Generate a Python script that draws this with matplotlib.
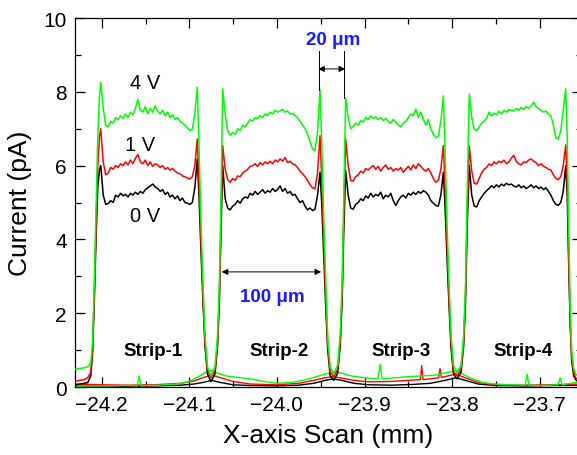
import numpy as np
import matplotlib
matplotlib.use("Agg")
import matplotlib.pyplot as plt
from matplotlib.ticker import MultipleLocator

plt.rcParams['font.family'] = ['Liberation Sans', 'DejaVu Sans']

# ---------------- data ----------------
voltage_labels = ['0 V', '1 V', '4 V']
voltage_label_x = [-24.1505, -24.156, -24.1505]
voltage_label_y = [4.64, 6.56, 8.26]
colors = ['#000000', '#ff0000', '#00ff00']

strip_names = ['Strip-1', 'Strip-2', 'Strip-3', 'Strip-4']
strip_label_x = [-24.1414, -23.9975, -23.8583, -23.7190]
strip_label_y = 1.0

# positions of the edge peaks of every strip (mm)
strip_left_peak_x = [-24.2011, -24.0619, -23.9215, -23.7804]
strip_right_peak_x = [-24.0909, -23.9508, -23.8100, -23.6703]

# plateau currents (pA), sampled evenly from left peak to right peak
plateau_0V = [
    [6.00, 5.20, 4.95, 4.97, 5.05, 5.00, 5.20, 5.15, 5.25, 5.18, 5.22, 5.15, 5.25, 5.20, 5.28, 5.22, 5.30, 5.25, 5.35, 5.40,
     5.45, 5.50, 5.42, 5.38, 5.30, 5.35, 5.22, 5.28, 5.15, 5.20, 5.10, 5.18, 5.05, 5.12, 5.00, 4.98, 4.95, 5.00, 5.40, 6.18],
    [6.00, 5.10, 4.85, 4.80, 4.90, 4.95, 5.05, 4.98, 5.10, 5.15, 5.12, 5.25, 5.20, 5.30, 5.22, 5.28, 5.35, 5.25, 5.32, 5.28,
     5.38, 5.30, 5.35, 5.45, 5.30, 5.38, 5.25, 5.30, 5.20, 5.22, 5.10, 5.00, 5.05, 4.90, 4.80, 4.85, 4.78, 4.82, 5.20, 5.82],
    [5.86, 5.20, 4.85, 4.82, 4.95, 5.00, 5.10, 5.05, 5.18, 5.12, 5.25, 5.15, 5.22, 5.18, 5.28, 5.10, 5.20, 5.15, 5.25, 5.05,
     4.92, 5.05, 5.15, 5.20, 5.12, 5.25, 5.20, 5.28, 5.22, 5.30, 5.25, 5.32, 5.28, 5.20, 5.05, 4.98, 4.92, 4.90, 5.20, 5.82],
    [6.00, 5.20, 4.90, 4.88, 5.05, 5.15, 5.25, 5.32, 5.38, 5.45, 5.40, 5.48, 5.42, 5.50, 5.45, 5.52, 5.48, 5.50, 5.45, 5.42,
     5.48, 5.40, 5.45, 5.38, 5.42, 5.48, 5.40, 5.45, 5.38, 5.42, 5.35, 5.40, 5.30, 5.20, 5.05, 4.95, 4.92, 5.00, 5.30, 6.00],
]
plateau_1V = [
    [7.00, 6.10, 5.75, 5.80, 5.95, 5.90, 6.00, 5.95, 6.05, 6.00, 6.10, 6.02, 6.15, 6.05, 6.20, 6.30, 6.10, 6.05, 6.15, 6.00,
     6.10, 5.98, 6.05, 6.02, 5.95, 6.00, 5.90, 5.95, 5.88, 5.92, 5.85, 5.80, 5.78, 5.72, 5.70, 5.66, 5.64, 5.70, 6.00, 6.72],
    [6.54, 5.90, 5.62, 5.55, 5.65, 5.60, 5.72, 5.70, 5.80, 5.85, 5.90, 5.98, 6.00, 6.05, 5.98, 6.08, 6.02, 6.10, 6.05, 6.12,
     6.05, 6.15, 6.10, 6.18, 6.12, 6.22, 6.08, 6.12, 6.05, 6.02, 5.95, 5.85, 5.78, 5.70, 5.60, 5.48, 5.40, 5.37, 5.80, 6.81],
    [6.72, 6.00, 5.60, 5.58, 5.70, 5.75, 5.85, 5.80, 5.92, 5.88, 5.95, 6.00, 5.90, 5.98, 5.85, 5.95, 6.02, 5.90, 5.95, 5.85,
     5.92, 5.88, 5.95, 5.82, 5.90, 5.98, 5.88, 6.02, 5.92, 6.05, 5.98, 5.90, 5.85, 5.92, 5.80, 5.65, 5.55, 5.60, 5.90, 6.54],
    [6.53, 5.85, 5.52, 5.50, 5.65, 5.80, 5.90, 5.95, 6.05, 6.00, 6.10, 6.05, 6.12, 6.08, 6.15, 6.05, 6.10, 6.20, 6.28, 6.12,
     6.05, 6.02, 6.10, 6.08, 6.15, 6.18, 6.12, 6.08, 6.00, 6.05, 5.98, 5.95, 5.90, 5.88, 5.75, 5.65, 5.62, 5.70, 6.00, 6.56],
]
plateau_4V = [
    [8.26, 7.55, 7.10, 7.05, 7.20, 7.15, 7.30, 7.25, 7.35, 7.28, 7.40, 7.30, 7.45, 7.38, 7.55, 7.80, 7.50, 7.45, 7.60, 7.40,
     7.55, 7.45, 7.62, 7.48, 7.40, 7.50, 7.35, 7.45, 7.30, 7.38, 7.25, 7.30, 7.20, 7.15, 7.10, 7.02, 6.95, 6.98, 7.40, 8.12],
    [8.08, 7.40, 6.95, 6.82, 6.90, 6.85, 7.00, 6.95, 7.10, 7.05, 7.15, 7.25, 7.20, 7.30, 7.28, 7.35, 7.30, 7.40, 7.35, 7.45,
     7.40, 7.50, 7.45, 7.48, 7.52, 7.45, 7.48, 7.40, 7.42, 7.35, 7.30, 7.20, 7.10, 7.00, 6.85, 6.65, 6.45, 6.40, 6.90, 8.06],
    [7.83, 7.30, 7.00, 7.05, 7.15, 7.10, 7.22, 7.18, 7.30, 7.25, 7.35, 7.28, 7.32, 7.25, 7.30, 7.22, 7.28, 7.20, 7.15, 7.25,
     7.18, 7.10, 7.05, 7.15, 7.20, 7.30, 7.40, 7.35, 7.53, 7.30, 7.45, 7.25, 7.10, 7.25, 7.00, 6.85, 6.75, 6.80, 7.20, 7.89],
    [7.94, 7.30, 6.98, 6.95, 7.05, 7.15, 7.20, 7.28, 7.45, 7.35, 7.42, 7.38, 7.48, 7.40, 7.50, 7.45, 7.52, 7.50, 7.48, 7.55,
     7.50, 7.58, 7.52, 7.60, 7.55, 7.62, 7.72, 7.60, 7.55, 7.50, 7.45, 7.48, 7.40, 7.35, 7.10, 6.75, 6.72, 6.95, 7.50, 8.08],
]

# left lead-in (before Strip-1)
lead_x = [-24.2305, -24.2250, -24.2200, -24.2160, -24.2125, -24.2105, -24.2085, -24.2065, -24.2045, -24.2025]
lead_0V = [0.05, 0.08, 0.10, 0.12, 0.30, 0.90, 2.30, 4.00, 5.40, 5.90]
lead_1V = [0.15, 0.18, 0.20, 0.25, 0.40, 1.00, 2.50, 4.40, 6.00, 6.80]
lead_4V = [0.48, 0.50, 0.52, 0.55, 0.65, 1.20, 2.80, 4.80, 6.80, 7.90]

# gaps between strips: offsets after the right peak of the preceding strip (mm)
gap_dx = [0.0019, 0.0042, 0.0065, 0.0088, 0.0116, 0.0156, 0.0202, 0.0231, 0.0253, 0.0271]
gap_0V = [[5.20, 3.70, 2.30, 1.10, 0.35, 0.15, 0.35, 1.10, 2.40, 4.30],
          [5.00, 3.60, 2.20, 1.00, 0.30, 0.18, 0.38, 1.15, 2.40, 4.20],
          [4.90, 3.50, 2.20, 1.05, 0.35, 0.22, 0.40, 1.10, 2.30, 4.30]]
gap_1V = [[5.60, 4.00, 2.50, 1.20, 0.45, 0.25, 0.45, 1.20, 2.60, 4.60],
          [5.70, 4.10, 2.50, 1.15, 0.40, 0.28, 0.48, 1.25, 2.60, 4.70],
          [5.50, 3.90, 2.40, 1.20, 0.42, 0.30, 0.50, 1.20, 2.50, 4.60]]
gap_4V = [[6.60, 4.50, 2.80, 1.40, 0.55, 0.30, 0.55, 1.40, 2.90, 5.20],
          [6.70, 4.60, 2.90, 1.35, 0.55, 0.35, 0.60, 1.45, 2.90, 5.10],
          [6.50, 4.40, 2.80, 1.40, 0.58, 0.38, 0.58, 1.40, 2.80, 5.20]]

# right tail (after Strip-4): offsets after its right peak (mm)
tail_dx = [0.0017, 0.0034, 0.0051, 0.0068, 0.0091, 0.0114, 0.0137]
tail_0V = [5.20, 3.30, 1.70, 0.70, 0.30, 0.20, 0.15]
tail_1V = [5.60, 3.60, 1.80, 0.80, 0.40, 0.25, 0.20]
tail_4V = [6.80, 4.30, 2.20, 1.00, 0.50, 0.35, 0.30]

# low-level currents of neighbouring strips (x mm, y pA)
base_0V = [(-24.2305, 0.02), (-24.200, 0.03), (-24.170, 0.02), (-24.140, 0.03), (-24.110, 0.05), (-24.095, 0.08),
           (-24.085, 0.12), (-24.0744, 0.18), (-24.064, 0.12), (-24.050, 0.06), (-24.030, 0.04), (-24.000, 0.03),
           (-23.975, 0.05), (-23.958, 0.10), (-23.945, 0.18), (-23.936, 0.22), (-23.926, 0.18), (-23.912, 0.10),
           (-23.895, 0.06), (-23.870, 0.05), (-23.845, 0.07), (-23.825, 0.10), (-23.808, 0.18), (-23.7955, 0.25),
           (-23.785, 0.18), (-23.770, 0.08), (-23.750, 0.04), (-23.720, 0.03), (-23.690, 0.04), (-23.6517, 0.05)]
base_1V = [(-24.2305, 0.08), (-24.200, 0.06), (-24.170, 0.05), (-24.140, 0.06), (-24.110, 0.10), (-24.095, 0.16),
           (-24.085, 0.25), (-24.0744, 0.32), (-24.064, 0.25), (-24.050, 0.15), (-24.030, 0.08), (-24.000, 0.06),
           (-23.975, 0.10), (-23.958, 0.18), (-23.945, 0.25), (-23.936, 0.28), (-23.926, 0.24), (-23.912, 0.18),
           (-23.895, 0.14), (-23.870, 0.15), (-23.850, 0.18), (-23.8362, 0.20), (-23.8347, 0.58), (-23.8332, 0.20),
           (-23.8153, 0.25), (-23.8138, 0.50), (-23.8123, 0.26), (-23.805, 0.30), (-23.7955, 0.35), (-23.785, 0.25),
           (-23.770, 0.12), (-23.750, 0.06), (-23.720, 0.05), (-23.690, 0.06), (-23.6517, 0.08)]
base_4V = [(-24.2305, 0.02), (-24.200, 0.03), (-24.175, 0.04), (-24.1595, 0.03), (-24.1573, 0.30), (-24.1551, 0.03),
           (-24.135, 0.05), (-24.115, 0.08), (-24.100, 0.15), (-24.088, 0.30), (-24.080, 0.42), (-24.0744, 0.45),
           (-24.068, 0.38), (-24.058, 0.30), (-24.045, 0.26), (-24.030, 0.22), (-24.015, 0.15), (-24.000, 0.10),
           (-23.985, 0.12), (-23.970, 0.18), (-23.955, 0.28), (-23.945, 0.35), (-23.936, 0.40), (-23.927, 0.38),
           (-23.915, 0.30), (-23.900, 0.25), (-23.8845, 0.22), (-23.8822, 0.62), (-23.8799, 0.22), (-23.865, 0.25),
           (-23.850, 0.28), (-23.835, 0.30), (-23.820, 0.32), (-23.808, 0.38), (-23.800, 0.42), (-23.7955, 0.45),
           (-23.790, 0.38), (-23.780, 0.25), (-23.765, 0.12), (-23.750, 0.08), (-23.735, 0.06), (-23.7166, 0.05),
           (-23.7144, 0.35), (-23.7122, 0.05), (-23.700, 0.04), (-23.690, 0.05), (-23.6789, 0.06), (-23.6767, 0.25),
           (-23.6745, 0.06), (-23.665, 0.10), (-23.6517, 0.15)]

# annotation positions (data units)
gap20_left_x, gap20_right_x = -23.952, -23.923
gap20_top_y, gap20_left_bottom_y, gap20_right_bottom_y = 9.11, 8.05, 7.83
gap20_arrow_y = 8.62
gap20_text = (-23.936, 9.41)
strip100_x0, strip100_x1, strip100_y = -24.063, -23.9495, 3.12
strip100_text = (-24.0055, 2.44)


def build_curve(lead, plateaus, gaps, tail):
    xs, ys = list(lead_x), list(lead)
    for k in range(4):
        px = np.linspace(strip_left_peak_x[k], strip_right_peak_x[k], len(plateaus[k]))
        xs += list(px)
        ys += list(plateaus[k])
        if k < 3:
            xs += [strip_right_peak_x[k] + d for d in gap_dx]
            ys += list(gaps[k])
    xs += [strip_right_peak_x[3] + d for d in tail_dx]
    ys += list(tail)
    return np.array(xs), np.array(ys)


curves = [
    build_curve(lead_0V, plateau_0V, gap_0V, tail_0V),
    build_curve(lead_1V, plateau_1V, gap_1V, tail_1V),
    build_curve(lead_4V, plateau_4V, gap_4V, tail_4V),
]
bases = [base_0V, base_1V, base_4V]

# ---------------- plot ----------------
fig = plt.figure(figsize=(5.77, 4.56), dpi=100)
ax = fig.add_axes([0.130, 0.1491, 0.8787, 0.8092])

for (bx_by, col) in zip(bases, colors):
    bx, by = zip(*bx_by)
    ax.plot(bx, by, color=col, lw=1.0, zorder=2)
for (x, y), col in zip(curves, colors):
    ax.plot(x, y, color=col, lw=1.1, zorder=3)

ax.set_xlim(-24.2305, -23.6517)
ax.set_ylim(0, 10)
ax.xaxis.set_major_locator(MultipleLocator(0.1))
ax.xaxis.set_minor_locator(MultipleLocator(0.05))
ax.yaxis.set_major_locator(MultipleLocator(2))
ax.yaxis.set_minor_locator(MultipleLocator(1))
ax.xaxis.set_major_formatter(plt.FuncFormatter(lambda v, p: f"{v:.1f}".replace('-', '\u2212')))
ax.yaxis.set_major_formatter(plt.FuncFormatter(lambda v, p: f"{v:.0f}"))
ax.tick_params(which='both', direction='in', top=True, right=True, width=0.9, labelsize=15, pad=6)
ax.tick_params(which='major', length=7)
ax.tick_params(which='minor', length=4)
for s in ax.spines.values():
    s.set_linewidth(0.9)

ax.set_xlabel('X-axis Scan (mm)', fontsize=19, labelpad=6)
ax.set_ylabel('Current (pA)', fontsize=19, labelpad=8)

for lab, lx, ly in zip(voltage_labels, voltage_label_x, voltage_label_y):
    ax.text(lx, ly, lab, fontsize=14.5, ha='center', va='center', zorder=5)
for name, sx in zip(strip_names, strip_label_x):
    ax.text(sx, strip_label_y, name, fontsize=13.5, fontweight='bold', ha='center', va='center', zorder=5)

# 20 um gap annotation
ax.plot([gap20_left_x, gap20_left_x], [gap20_top_y, gap20_left_bottom_y], color='black', lw=0.7, zorder=4)
ax.plot([gap20_right_x, gap20_right_x], [gap20_top_y, gap20_right_bottom_y], color='black', lw=0.7, zorder=4)
ax.annotate('', xy=(gap20_left_x - 0.0008, gap20_arrow_y), xytext=(gap20_right_x + 0.0008, gap20_arrow_y),
            arrowprops=dict(arrowstyle='<|-|>', color='black', lw=0.7, mutation_scale=9, shrinkA=0, shrinkB=0),
            zorder=4)
ax.text(*gap20_text, '20 \u03bcm', color='#1a1aff', fontsize=13.5, fontweight='bold', ha='center', va='center')

# 100 um strip annotation
ax.annotate('', xy=(strip100_x0, strip100_y), xytext=(strip100_x1, strip100_y),
            arrowprops=dict(arrowstyle='<|-|>', color='black', lw=0.7, mutation_scale=9, shrinkA=0, shrinkB=0),
            zorder=4)
ax.text(*strip100_text, '100 \u03bcm', color='#1a1aff', fontsize=13.5, fontweight='bold', ha='center', va='center')

fig.savefig('out.png', dpi=100)
